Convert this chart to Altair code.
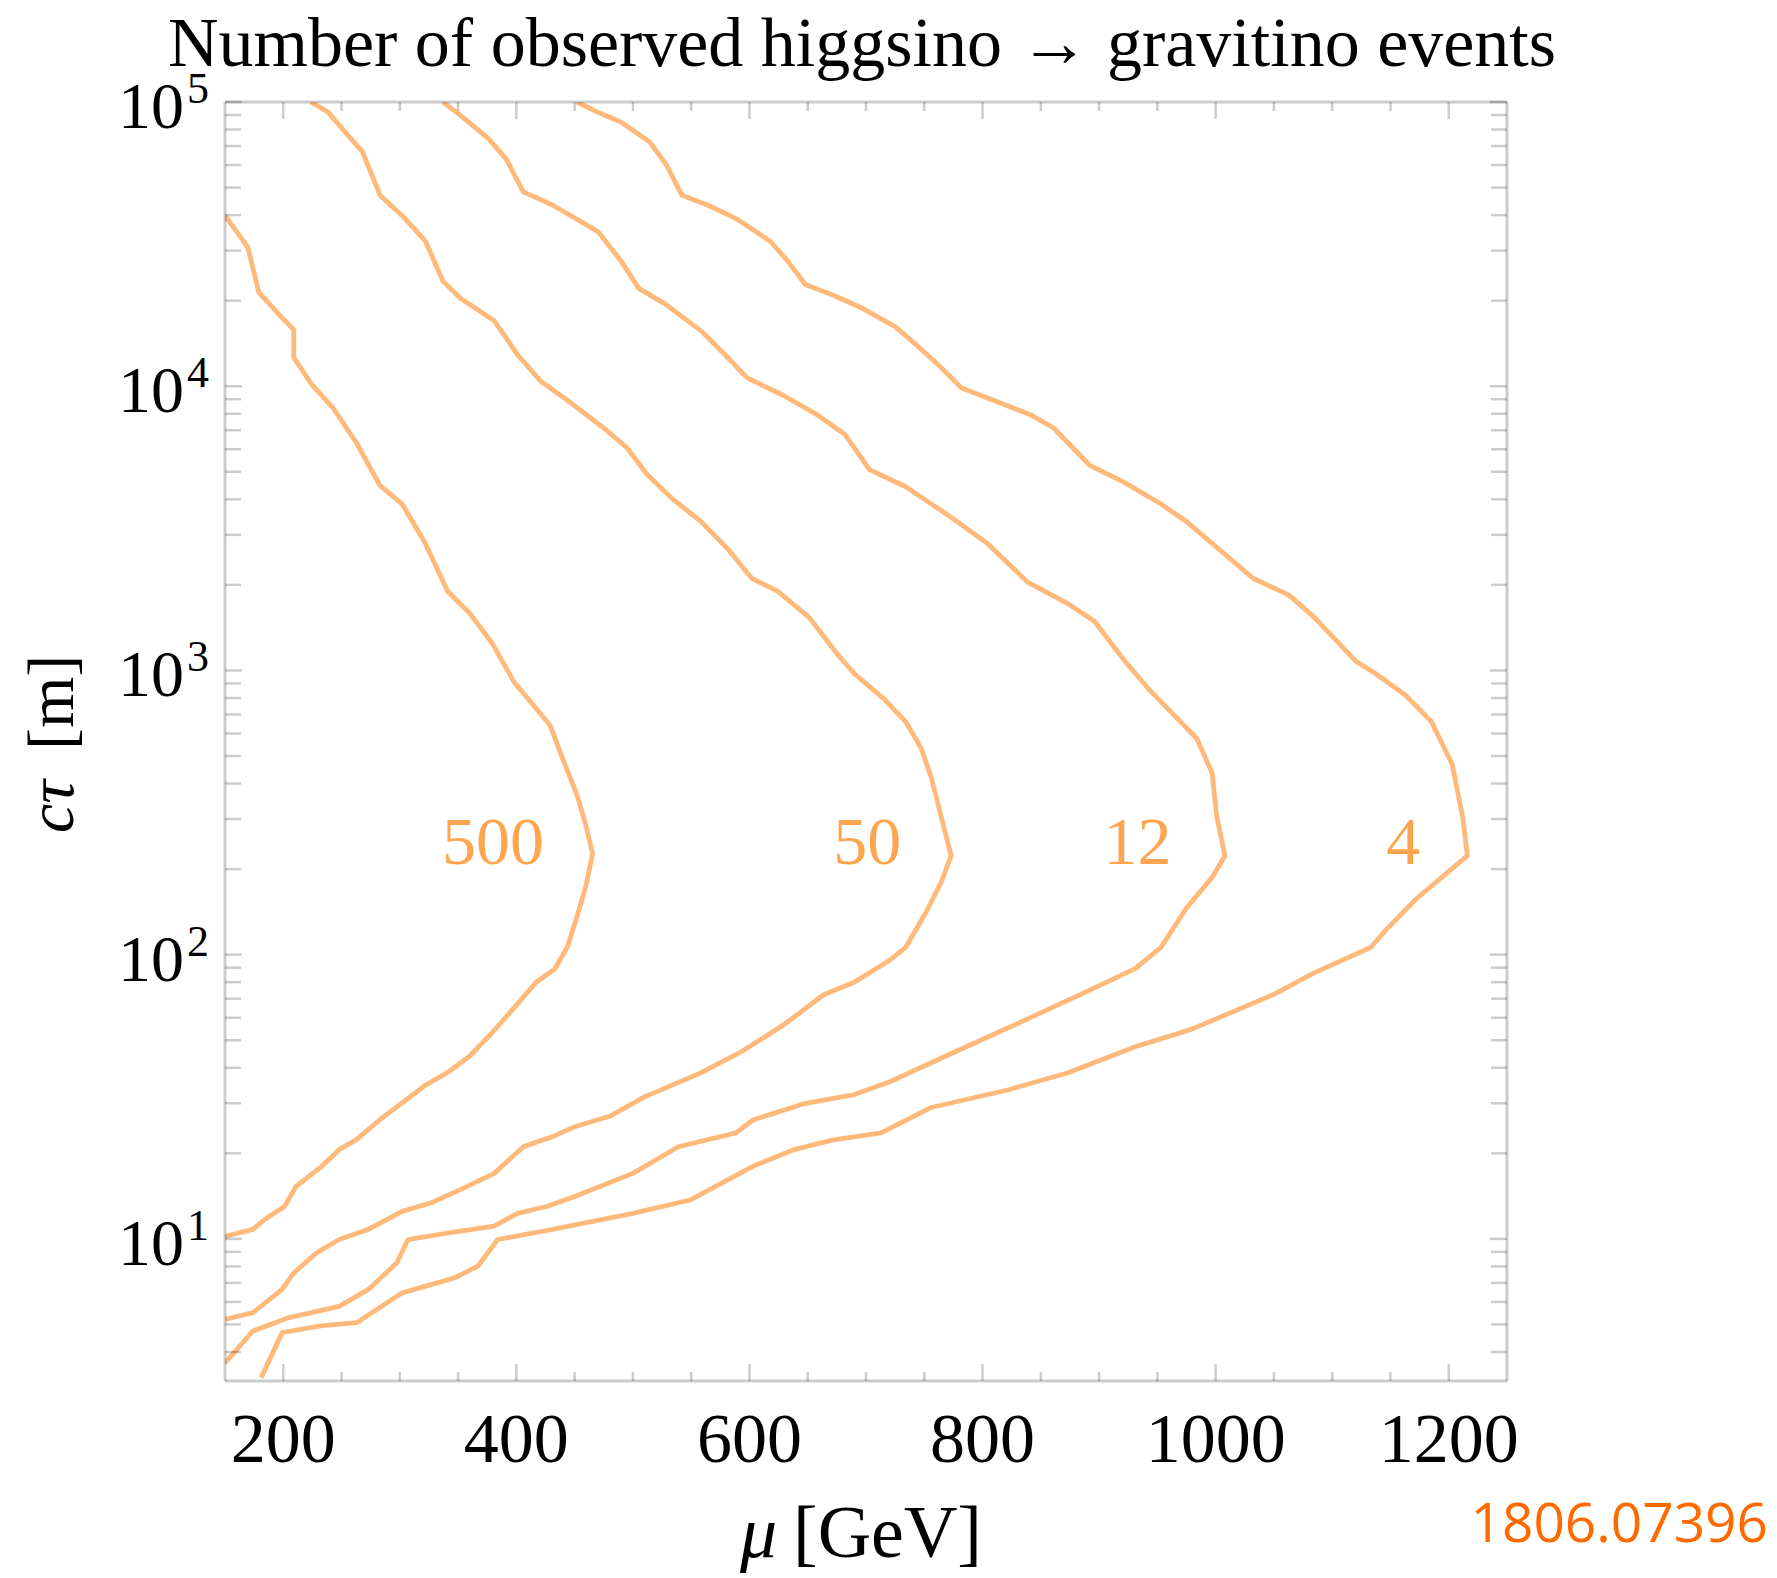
import altair as alt
import pandas as pd

# ---------------- data ----------------
# contour "500"
c500_mu = [150, 169.5, 179, 199, 209, 209, 224, 243.5, 263, 283, 302, 321.5, 341, 360, 379, 398, 414, 429,
           440.5, 452, 459.6, 465.4, 459.6, 452, 444, 433, 417, 398, 379, 360, 341, 321.5, 302, 283, 263,
           248, 233, 211, 201, 184, 174, 150]
c500_ct = [39800, 30900, 21400, 17400, 15800, 12600, 10200, 8300, 6300, 4470, 3850, 2820, 1900, 1590, 1250,
           910, 760, 640, 480, 365, 286, 227, 174, 136, 107, 89, 80, 65, 53, 44, 38.5, 34.6, 30.1, 26.3,
           22.4, 20.6, 18.0, 15.3, 13.0, 11.7, 10.8, 10.2]

# contour "50"
c50_mu = [223.5, 238, 253, 268, 283, 302, 322, 337, 352, 381, 401, 421, 445, 475, 495, 512, 535, 558.5,
          580.5, 602, 624, 651, 677, 690, 716, 734, 747, 756, 764.6, 773, 764.6, 751.5, 734, 721, 690, 664,
          629, 594, 559, 510, 480, 450, 431, 406, 381, 352, 327, 302, 273, 248, 228.5, 209, 199, 174, 150]
c50_ct = [100000, 92500, 78500, 66800, 47000, 39800, 32400, 23400, 20400, 17000, 12900, 10400, 8850, 7130,
          6070, 4900, 3980, 3340, 2700, 2110, 1900, 1540, 1120, 975, 790, 660, 537, 420, 305, 223, 180,
          141, 106, 96, 80, 72.4, 56.5, 45.8, 38.5, 31.6, 27.0, 24.8, 22.9, 21.1, 17.0, 14.9, 13.4, 12.5,
          10.8, 9.95, 8.93, 7.59, 6.64, 5.50, 5.21]

# contour "12"
c12_mu = [337, 352, 376, 391, 406, 431, 470, 490, 505, 529, 559, 579, 598, 628, 658, 682, 690, 703, 734,
          773, 804, 839, 874, 896, 922, 944, 966, 984, 997, 1001, 1008, 997, 975, 953, 931, 892, 835, 778,
          721, 690, 648, 603, 588.5, 539, 500, 450, 426, 401, 381, 342, 307, 297.5, 273, 248, 204, 174, 150]
c12_ct = [100000, 89700, 74300, 63200, 48300, 43400, 35000, 27500, 22100, 19300, 15600, 12900, 10700, 9330,
          7940, 6760, 6070, 5090, 4430, 3460, 2800, 2040, 1710, 1490, 1080, 847, 685, 575, 435, 305, 223,
          187, 146, 106, 89.3, 75.0, 58.5, 45.8, 35.8, 32.2, 30.0, 26.2, 23.6, 21.1, 17.0, 14.1, 13.0,
          12.3, 11.1, 10.5, 9.95, 8.24, 6.64, 5.79, 5.27, 4.74, 3.66]

# contour "4"
c4_mu = [452, 470, 490, 514.5, 529, 542, 564, 588.5, 618, 633, 648, 672, 697, 725, 743, 762, 782, 811.5,
         841, 861, 877, 892, 922, 953, 975, 997, 1032, 1063, 1084.5, 1120, 1137, 1163, 1185, 1203, 1212,
         1216, 1198.5, 1172, 1146, 1133, 1084.5, 1049.5, 997, 979, 931, 874, 821.5, 756, 713, 672, 638,
         603, 549, 500, 431, 384, 367, 347, 302, 263, 232, 199, 181]
c4_ct = [100000, 92000, 84900, 72300, 59800, 47000, 43400, 38900, 32300, 27500, 22800, 20900, 18800, 16200,
         14000, 11900, 9860, 8850, 7940, 7130, 6100, 5270, 4580, 3850, 3340, 2800, 2110, 1840, 1540, 1080,
         975, 818, 662, 467, 305, 223, 194, 157, 122, 106, 86.3, 72.4, 58.6, 54.6, 47.4, 38.5, 33.4, 29.0,
         23.6, 22.3, 20.6, 18.0, 13.7, 12.3, 10.8, 9.95, 8.02, 7.29, 6.46, 5.07, 4.94, 4.68, 3.25]

# contour labels
label_text = ["500", "50", "12", "4"]
label_mu = [380, 701, 933, 1161]
label_ct = [208, 208, 208, 208]

# axis ticks / labels
x_tick_labels = [200, 400, 600, 800, 1000, 1200]
x_label_text = ["200", "400", "600", "800", "1000", "1200"]
x_minor = [250, 300, 350, 450, 500, 550, 650, 700, 750, 850, 900, 950, 1050, 1100, 1150]
y_major = [10, 100, 1000, 10000, 100000]
y_exp = ["1", "2", "3", "4", "5"]
y_minor = [m * d for d in [1, 10, 100, 1000, 10000] for m in range(2, 10) if m * d >= 4]

title_text = "Number of observed higgsino \u2192 gravitino events"
source_text = "1806.07396"

# ---------------- build ----------------
rows = []
for name, mus, cts in [("500", c500_mu, c500_ct), ("50", c50_mu, c50_ct),
                       ("12", c12_mu, c12_ct), ("4", c4_mu, c4_ct)]:
    for i, (m, c) in enumerate(zip(mus, cts)):
        rows.append({"curve": name, "i": i, "mu": m, "ct": c})
df = pd.DataFrame(rows)

W, H = 1282, 1279
SERIF = "Liberation Serif"
LINE = "#FFB97A"
LABEL = "#FFA54F"
XS = alt.Scale(domain=[150, 1250], nice=False, zero=False)
YS = alt.Scale(type="log", domain=[3.1623, 100000], nice=False)

lines = alt.Chart(df).mark_line(clip=True, strokeWidth=4.8, color=LINE, strokeJoin="round").encode(
    x=alt.X("mu:Q", scale=XS, axis=None),
    y=alt.Y("ct:Q", scale=YS, axis=None),
    detail="curve:N",
    order="i:Q",
)

lab_df = pd.DataFrame({"mu": label_mu, "ct": label_ct, "t": label_text})
clabels = alt.Chart(lab_df).mark_text(font=SERIF, fontSize=68, color=LABEL, align="center",
                                      baseline="alphabetic").encode(
    x=alt.X("mu:Q", scale=XS, axis=None),
    y=alt.Y("ct:Q", scale=YS, axis=None),
    text="t:N",
)

one = pd.DataFrame({"a": [0]})
FR = dict(color="black", opacity=0.2, strokeWidth=3)
frame = [
    alt.Chart(one).mark_rule(**FR).encode(x=alt.value(0), x2=alt.value(W), y=alt.value(0)),
    alt.Chart(one).mark_rule(**FR).encode(x=alt.value(0), x2=alt.value(W), y=alt.value(H)),
    alt.Chart(one).mark_rule(**FR).encode(x=alt.value(0), y=alt.value(0), y2=alt.value(H)),
    alt.Chart(one).mark_rule(**FR).encode(x=alt.value(W), y=alt.value(0), y2=alt.value(H)),
]

TK = dict(color="black", opacity=0.2, strokeWidth=2.5)
xmaj = pd.DataFrame({"v": x_tick_labels})
xmin = pd.DataFrame({"v": x_minor})
ymaj = pd.DataFrame({"v": y_major})
ymin = pd.DataFrame({"v": y_minor})
XV = alt.X("v:Q", scale=XS, axis=None)
YV = alt.Y("v:Q", scale=YS, axis=None)
ticks = [
    alt.Chart(xmaj).mark_rule(**TK).encode(x=XV, y=alt.value(H), y2=alt.value(H - 17)),
    alt.Chart(xmaj).mark_rule(**TK).encode(x=XV, y=alt.value(0), y2=alt.value(17)),
    alt.Chart(xmin).mark_rule(**TK).encode(x=XV, y=alt.value(H), y2=alt.value(H - 9)),
    alt.Chart(xmin).mark_rule(**TK).encode(x=XV, y=alt.value(0), y2=alt.value(9)),
    alt.Chart(ymaj).mark_rule(**TK).encode(y=YV, x=alt.value(0), x2=alt.value(17)),
    alt.Chart(ymaj).mark_rule(**TK).encode(y=YV, x=alt.value(W), x2=alt.value(W - 17)),
    alt.Chart(ymin).mark_rule(**TK).encode(y=YV, x=alt.value(0), x2=alt.value(16)),
    alt.Chart(ymin).mark_rule(**TK).encode(y=YV, x=alt.value(W), x2=alt.value(W - 16)),
]

xlab_df = pd.DataFrame({"v": x_tick_labels, "t": x_label_text})
xlabels = alt.Chart(xlab_df).mark_text(align="center", baseline="alphabetic", font=SERIF,
                                       fontSize=70, color="black").encode(
    x=XV, y=alt.value(H + 81), text="t:N")

ylab_df = pd.DataFrame({"ct": y_major, "e": y_exp})
ylab10 = alt.Chart(ylab_df).mark_text(text="10", align="right", baseline="alphabetic", dy=26,
                                      font=SERIF, fontSize=66, color="black").encode(
    x=alt.value(-41), y=alt.Y("ct:Q", scale=YS, axis=None))
ylabexp = alt.Chart(ylab_df).mark_text(align="left", baseline="alphabetic", dy=1,
                                       font=SERIF, fontSize=44, color="black").encode(
    x=alt.value(-38), y=alt.Y("ct:Q", scale=YS, axis=None), text="e:N")

texts = [
    alt.Chart(one).mark_text(text=title_text, font=SERIF, fontSize=70, color="black", align="center",
                             baseline="alphabetic").encode(x=alt.value(637), y=alt.value(-36)),
    alt.Chart(one).mark_text(text="\u03bc", font=SERIF, fontStyle="italic", fontSize=74, color="black",
                             align="left", baseline="alphabetic").encode(x=alt.value(515), y=alt.value(1455)),
    alt.Chart(one).mark_text(text="[GeV]", font=SERIF, fontSize=74, color="black",
                             align="right", baseline="alphabetic").encode(x=alt.value(757), y=alt.value(1455)),
    alt.Chart(one).mark_text(text="c\u03c4", font=SERIF, fontStyle="italic", fontSize=66, color="black",
                             align="left", baseline="alphabetic", angle=270).encode(
        x=alt.value(-152), y=alt.value(731)),
    alt.Chart(one).mark_text(text="[m]", font=SERIF, fontSize=66, color="black",
                             align="left", baseline="alphabetic", angle=270).encode(
        x=alt.value(-152), y=alt.value(648)),
    alt.Chart(one).mark_text(text=source_text, font="Open Sans", fontSize=55, color="#FF6A00",
                             align="right", baseline="alphabetic").encode(x=alt.value(1543), y=alt.value(1440)),
]

chart = alt.layer(lines, clabels, *frame, *ticks, xlabels, ylab10, ylabexp, *texts).properties(
    width=W, height=H,
    padding={"left": 217, "top": 94, "right": 262, "bottom": 197},
    autosize=alt.AutoSizeParams(type="none"),
).configure_view(stroke=None)

chart.save("out.html", embed_options={"renderer": "svg", "actions": False})
